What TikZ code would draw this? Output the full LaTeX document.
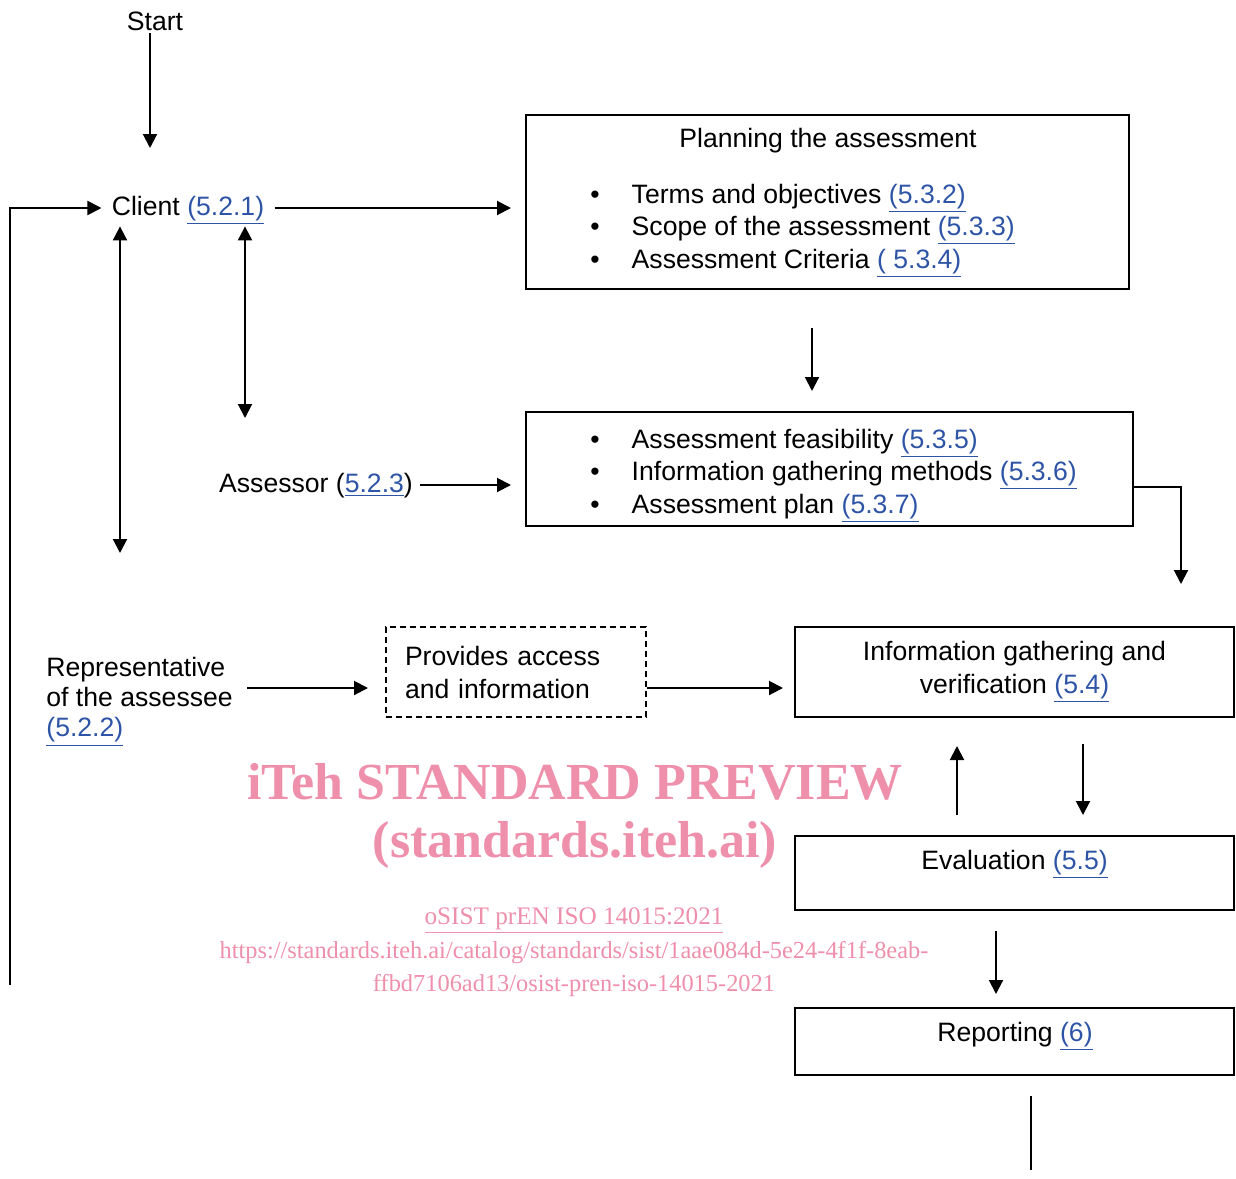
\documentclass[tikz,border=0pt]{standalone}
\usepackage{xcolor}
\usepackage{fontspec}
\setmainfont{Liberation Sans}
\newfontfamily\wmfont{Liberation Serif}
\usetikzlibrary{arrows.meta}

\definecolor{linkblue}{RGB}{46,84,166}
\definecolor{wmpink}{RGB}{238,143,172}
\newcommand\clref[1]{\textcolor{linkblue}{\underline{#1}}}
\newcommand\bodyfont{\fontsize{13.3}{16.25}\selectfont}

\tikzset{
  arr/.style={-{Triangle[length=7pt,width=7pt]}, line width=1pt},
  dblarr/.style={{Triangle[length=7pt,width=7pt]}-{Triangle[length=7pt,width=7pt]}, line width=1pt},
  box/.style={draw, line width=1pt, inner sep=0pt},
  lbl/.style={text height=9.5pt, text depth=2.5pt},
  wm/.style={text=wmpink, inner sep=0pt}
}

\begin{document}
\begin{tikzpicture}[x=0.5pt, y=-0.5pt, font=\bodyfont]
\useasboundingbox (0,0) rectangle (1236,1178);

% watermark
\node[wm, font=\wmfont\bfseries\fontsize{26}{30}\selectfont] (wmtitle) at (575,782) {iTeh STANDARD PREVIEW};
\node[wm, font=\wmfont\bfseries\fontsize{26}{30}\selectfont] (wmsite) at (575,845) {(standards.iteh.ai)};
\node[wm, font=\wmfont\fontsize{12.6}{16}\selectfont] (wmcode) at (574,921) {\underline{oSIST prEN ISO 14015:2021}};
\node[wm, font=\wmfont\fontsize{12.2}{16}\selectfont] (wmurl) at (574,953) {https://standards.iteh.ai/catalog/standards/sist/1aae084d-5e24-4f1f-8eab-};
\node[wm, font=\wmfont\fontsize{12.2}{16}\selectfont] (wmurl2) at (574,985) {ffbd7106ad13/osist-pren-iso-14015-2021};

% actors
\node[lbl] (start) at (155,24) {Start};
\coordinate (startend) at (150,148);
\draw[arr] ([yshift=5pt]start.south -| startend) -- (startend);

\node[lbl, inner xsep=5pt, inner ysep=3pt] (client) at (188,208) {Client \clref{(5.2.1)}};
\node[lbl] (assessor) at (316,485) {Assessor (\clref{5.2.3})};
\node[align=left, anchor=west, inner sep=0pt, font=\fontsize{13.3}{15}\selectfont] (rep) at (46,702)
  {Representative\\of the assessee\\\clref{(5.2.2)}};

% planning boxes
\node[box, minimum width=301.5pt, minimum height=87pt] (plan) at (827.5,202) {};
\node[lbl] (plantitle) at (828,140) {Planning the assessment};
\node[anchor=west, inner sep=0pt] (planlist) at (590,229) {%
  \begin{tabular}{@{}l@{\hspace{16pt}}l@{}}
  \textbullet & Terms and objectives \clref{(5.3.2)}\\
  \textbullet & Scope of the assessment \clref{(5.3.3)}\\
  \textbullet & Assessment Criteria \clref{( 5.3.4)}
  \end{tabular}};

\node[box, minimum width=303.5pt, minimum height=57pt] (feas) at (829.5,469) {};
\node[anchor=west, inner sep=0pt] (feaslist) at (590,474) {%
  \begin{tabular}{@{}l@{\hspace{16pt}}l@{}}
  \textbullet & Assessment feasibility \clref{(5.3.5)}\\
  \textbullet & Information gathering methods \clref{(5.3.6)}\\
  \textbullet & Assessment plan \clref{(5.3.7)}
  \end{tabular}};

% doing boxes
\node[box, dashed, dash pattern=on 3pt off 2pt, minimum width=130pt, minimum height=45pt,
  text width=111pt, inner xsep=9.5pt, align=left, font=\fontsize{13.3}{16.5}\selectfont] (acc) at (516,672)
  {Provides access\\and information};
\node[box, minimum width=219.5pt, minimum height=45pt, align=center,
  font=\fontsize{13.3}{16.5}\selectfont] (info) at (1014.5,672)
  {Information gathering and\\verification \clref{(5.4)}};
\node[box, minimum width=219.5pt, minimum height=37pt] (eval) at (1014.5,873) {};
\node[lbl] (evaltxt) at (1014.5,862) {Evaluation \clref{(5.5)}};
\node[box, minimum width=219.5pt, minimum height=33.5pt] (report) at (1014.5,1041.5) {};
\node[lbl] (reporttxt) at (1015,1034) {Reporting \clref{(6)}};

% connectors
\coordinate (loopback) at (10,985);
\draw[arr] (loopback) |- (client.west);
\draw[arr, shorten >=7pt] (client.east) -- (plan.west |- client.east);

\coordinate (repup) at (120,553);
\draw[dblarr] (client.south -| repup) -- (repup);
\coordinate (asup) at (245,418);
\draw[dblarr] (client.south -| asup) -- (asup);

\draw[arr, shorten <=19pt, shorten >=10pt] ([xshift=-7.75pt]plan.south) -- ([xshift=-7.75pt]plan.south |- feas.north);
\draw[arr, shorten >=7pt] (assessor.east) -- (feas.west |- assessor.east);

\coordinate (feasdown) at (1181,584);
\draw[arr] ([yshift=-9pt]feas.east) -| (feasdown);

\coordinate (flow) at (0,688);
\draw[arr, shorten <=7pt, shorten >=8.5pt] (rep.east |- flow) -- (acc.west |- flow);
\draw[arr, shorten >=5.5pt] (acc.east |- flow) -- (info.west |- flow);

\draw[arr, shorten <=10pt, shorten >=14pt] ([xshift=-28.75pt]eval.north) -- ([xshift=-28.75pt]eval.north |- info.south);
\draw[arr, shorten <=13pt, shorten >=10pt] ([xshift=34.25pt]info.south) -- ([xshift=34.25pt]info.south |- eval.north);
\draw[arr, shorten <=10pt, shorten >=6.5pt] ([xshift=-9.25pt]eval.south) -- ([xshift=-9.25pt]eval.south |- report.north);

\coordinate (endline) at (1031,1170);
\draw[line width=1pt, shorten <=10pt] (report.south -| endline) -- (endline);
\end{tikzpicture}
\end{document}
